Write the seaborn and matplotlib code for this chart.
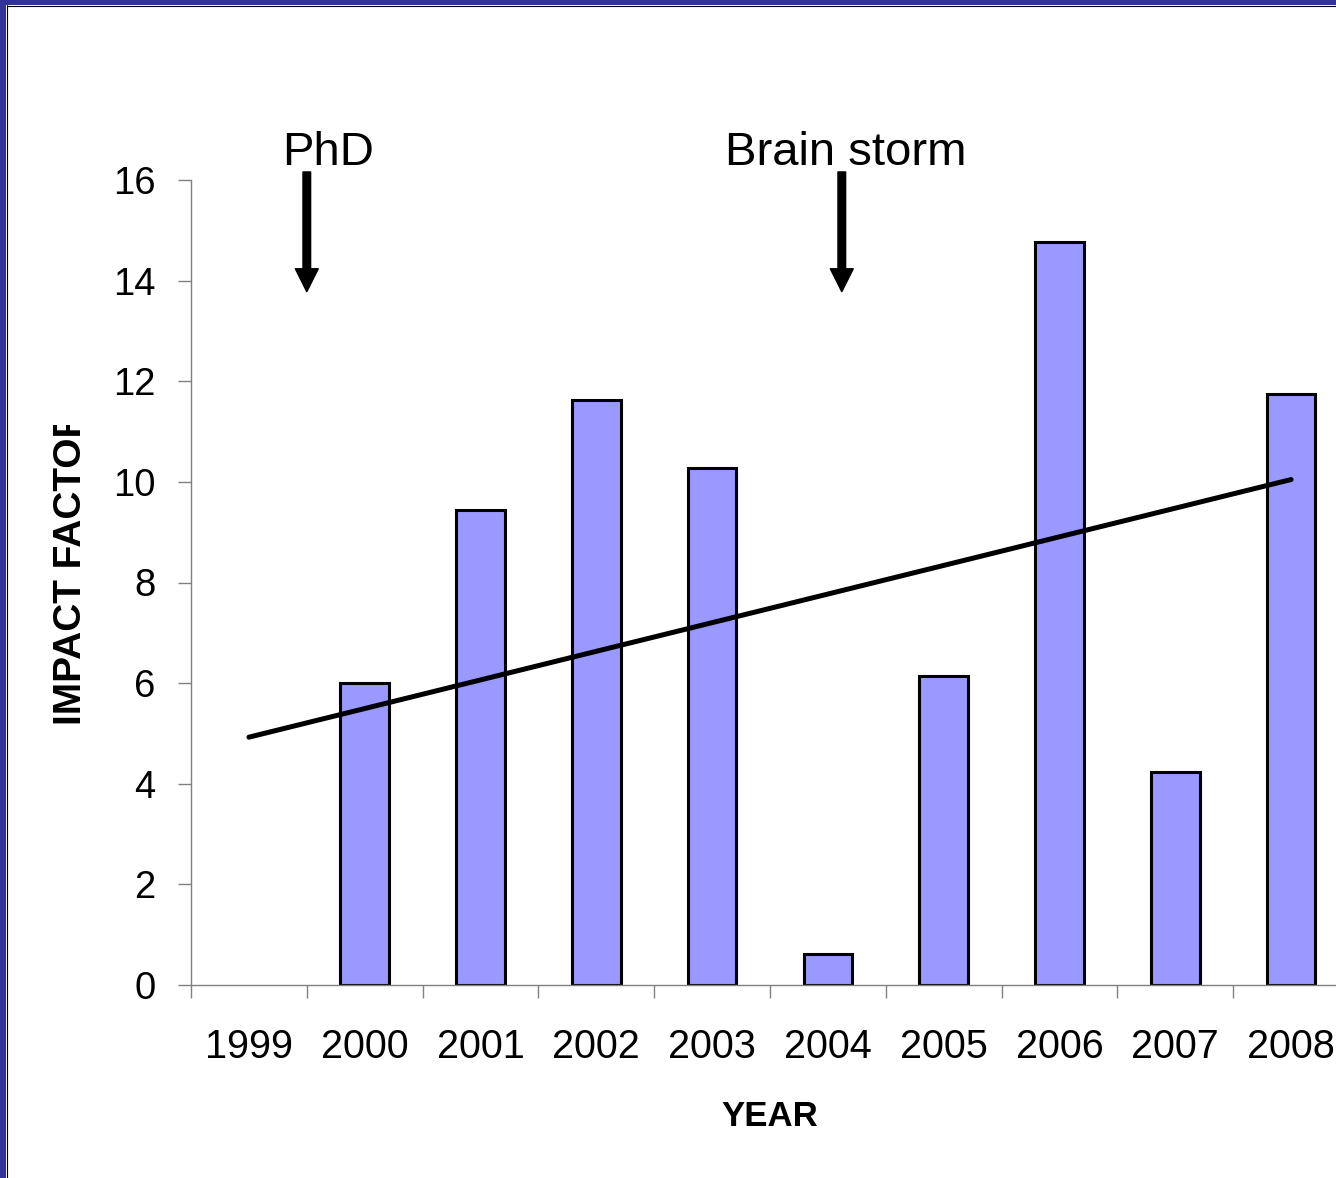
import numpy as np
import pandas as pd
import matplotlib
matplotlib.use("Agg")
import matplotlib.pyplot as plt
import seaborn as sns
from matplotlib.patches import Rectangle
from matplotlib.lines import Line2D
from matplotlib.transforms import Bbox, TransformedBbox

# ---- data ----
years = ["1999", "2000", "2001", "2002", "2003", "2004", "2005", "2006", "2007", "2008"]
impact = [0.0, 6.0, 9.44, 11.63, 10.28, 0.62, 6.14, 14.77, 4.23, 11.75]
event_labels = ["PhD", "Brain storm"]
event_pos = [0.5, 5.12]
event_text_pos = [0.68, 5.155]

sns.set_theme(style="white")
plt.rcParams['font.family'] = ['Liberation Sans', 'DejaVu Sans']

W, H = 1336, 1178
fig = plt.figure(figsize=(W / 100, H / 100), dpi=100)
fig.patch.set_facecolor("white")
ax = fig.add_axes([191 / W, 1 - 985 / H, 1158 / W, 805 / H])

df = pd.DataFrame({"year": years, "impact": impact})
sns.barplot(data=df, x="year", y="impact", order=years, color="#9999FF",
            saturation=1, width=0.42, edgecolor="black", linewidth=2.2,
            errorbar=None, ax=ax)
for p in ax.patches:
    if p.get_height() == 0:
        p.set_linewidth(0)

# linear trend line
xs = np.arange(len(years))
coef = np.polyfit(xs, impact, 1)
sns.lineplot(x=xs, y=np.polyval(coef, xs), color="black", lw=3.6,
             solid_capstyle="round", ax=ax)

ax.set_xlim(-0.5, 9.5)
ax.set_ylim(0, 16)
ax.set_yticks(range(0, 17, 2))
ax.set_xticks(xs, years)
ax.set_xticks(np.arange(-0.5, 10, 1), minor=True)

ax.tick_params(axis="y", left=True, length=9.4, width=1, color="#808080",
               pad=16, labelsize=27.5, labelcolor="black", direction="out")
ax.tick_params(axis="x", which="major", bottom=True, length=0, pad=31,
               labelsize=28.5, labelcolor="black")
ax.tick_params(axis="x", which="minor", bottom=True, length=9.4, width=1,
               color="#808080", direction="out")

for s in ["top", "right"]:
    ax.spines[s].set_visible(False)
for s in ["left", "bottom"]:
    ax.spines[s].set_color("#808080")
    ax.spines[s].set_linewidth(1)

ax.set_xlabel("YEAR", fontsize=25, fontweight="bold", color="black")
ax.xaxis.set_label_coords(0.5, -0.1425)
ax.set_ylabel("IMPACT FACTOR", fontsize=28, fontweight="bold", color="black")
ax.yaxis.set_label_coords(-0.0885, 0.519)
ylab = ax.yaxis.label
ylab.set_clip_box(TransformedBbox(Bbox.from_extents(0, 0, 1, 1 - 425 / H), fig.transFigure))
ylab.set_clip_on(True)

for lab, xp, tx in zip(event_labels, event_pos, event_text_pos):
    ax.annotate("", xy=(xp, 13.78), xytext=(xp, 16.16),
                arrowprops=dict(facecolor="black", edgecolor="black", width=5.5,
                                headwidth=16.5, headlength=16.5, shrink=0),
                annotation_clip=False)
    ax.text(tx, 16.30, lab, ha="center", va="baseline", fontsize=34,
            color="black", clip_on=False)

# slide frame
fig.patches.append(Rectangle((0, 0), 6 / W, 1, transform=fig.transFigure,
                             facecolor="#333399", edgecolor="none", zorder=10))
fig.patches.append(Rectangle((0, 1 - 5 / H), 1, 5 / H, transform=fig.transFigure,
                             facecolor="#333399", edgecolor="none", zorder=10))
fig.lines.append(Line2D([6.5 / W, 6.5 / W], [0, 1 - 5 / H], transform=fig.transFigure,
                        color="black", lw=0.8, zorder=11))
fig.lines.append(Line2D([6.5 / W, 1], [1 - 5.5 / H, 1 - 5.5 / H], transform=fig.transFigure,
                        color="black", lw=0.8, zorder=11))

fig.savefig("out.png", dpi=100)
